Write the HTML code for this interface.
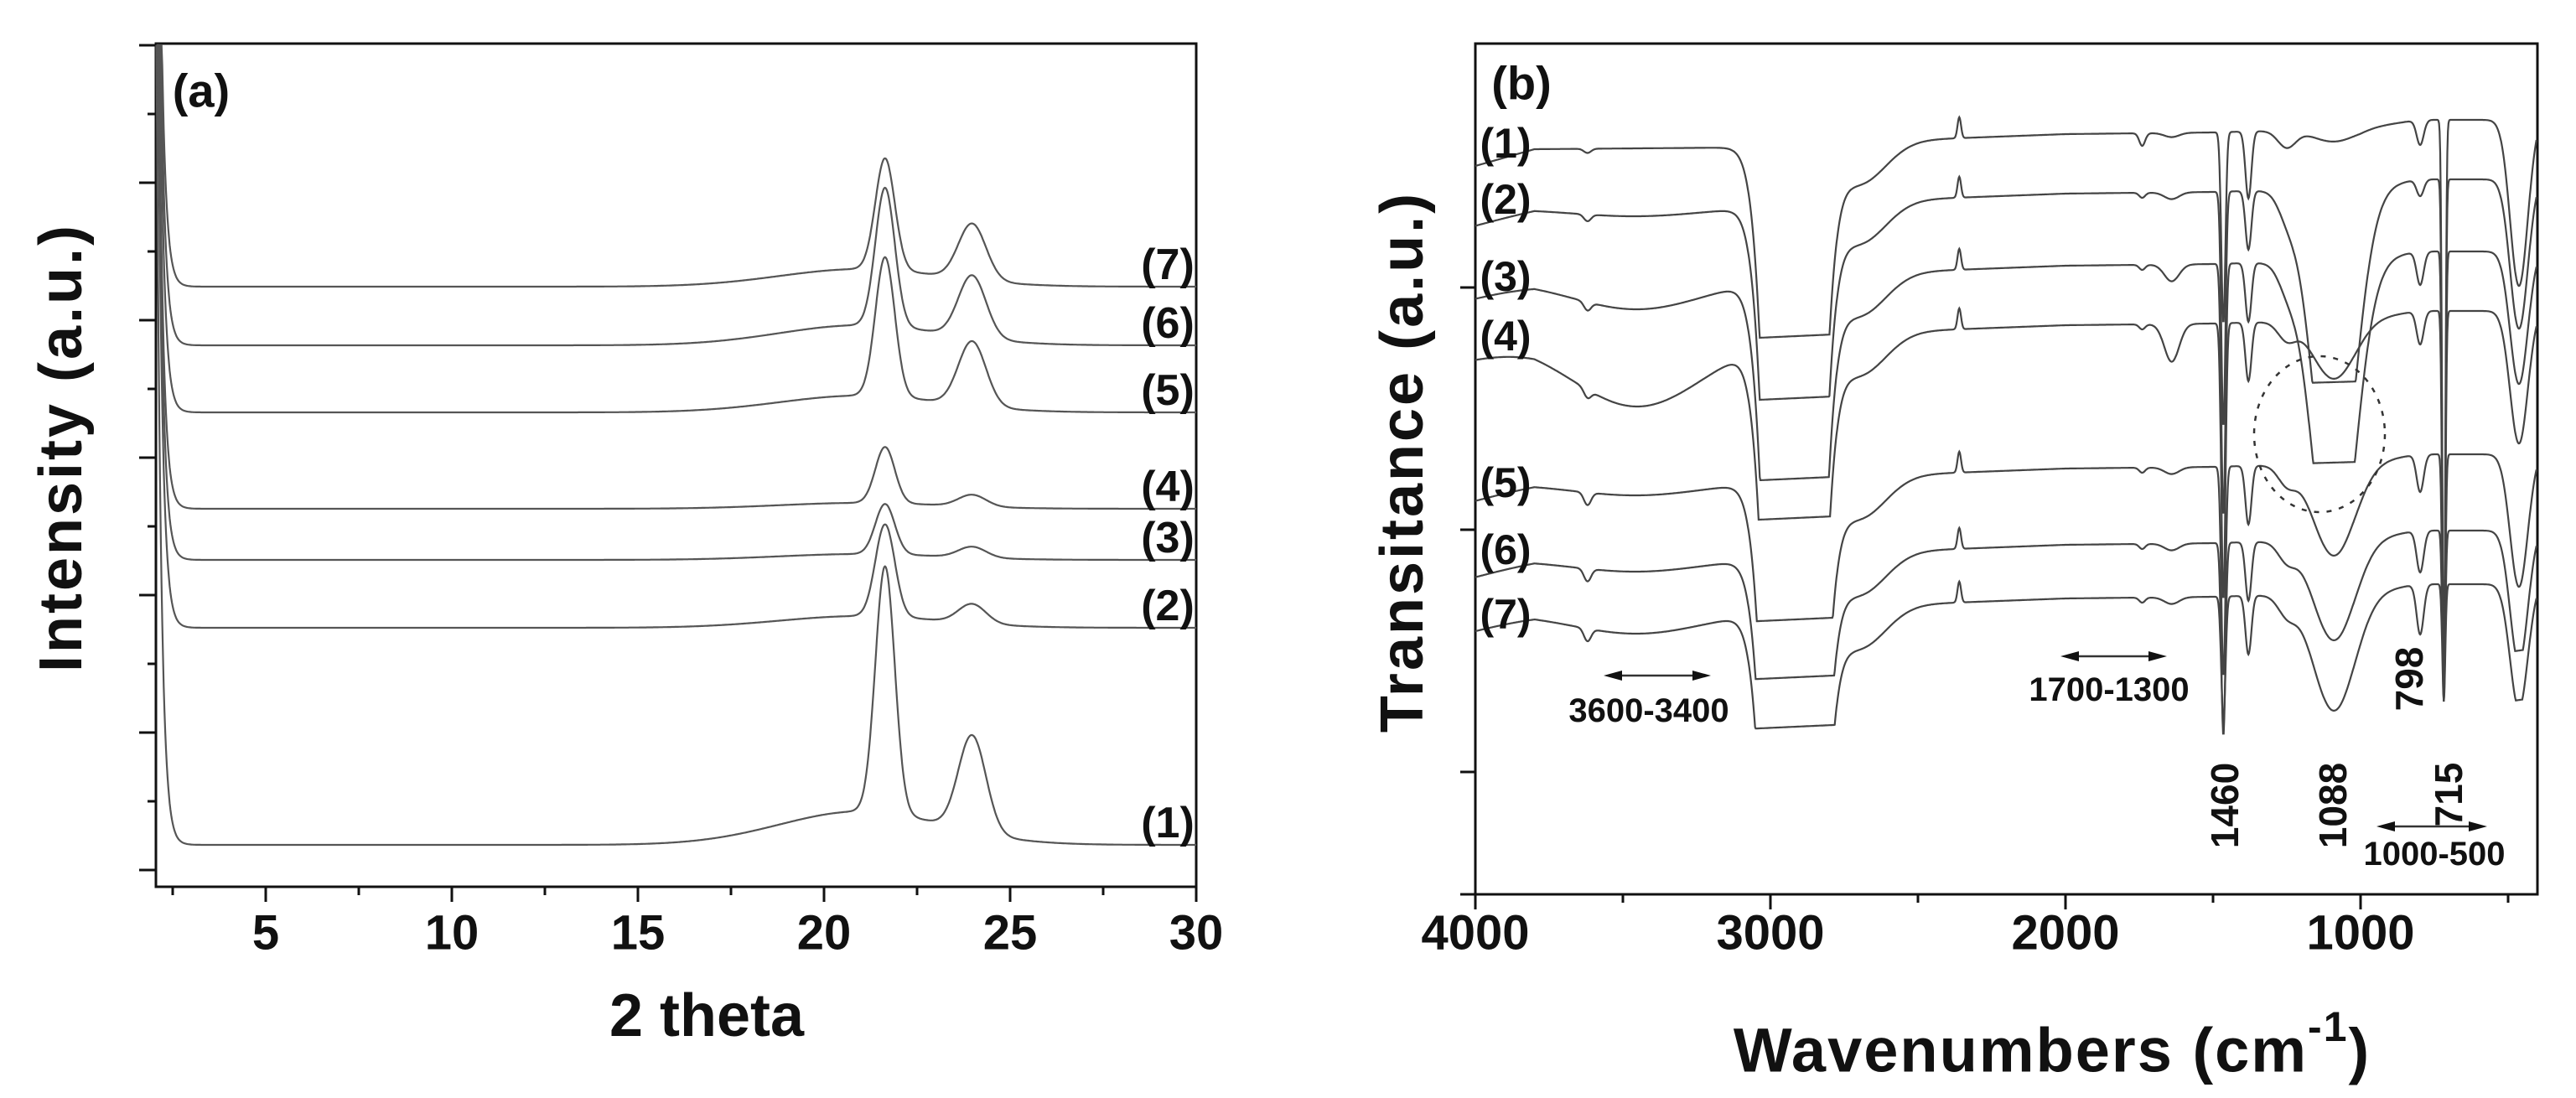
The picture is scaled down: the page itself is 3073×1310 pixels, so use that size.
<!DOCTYPE html>
<html><head><meta charset="utf-8"><style>
html,body{margin:0;padding:0;background:#fff;}
svg{display:block;font-family:"Liberation Sans",sans-serif;}
</style></head><body>
<svg id="fig" width="3073" height="1310" viewBox="0 0 3073 1310" xmlns="http://www.w3.org/2000/svg">
<rect x="0" y="0" width="3073" height="1310" fill="#fff"/>
<g id="pa"></g>
<g id="pb"></g>
</svg>
<script>
// ---------- Panel (a) data ----------
const xrdLabels = ["(1)","(2)","(3)","(4)","(5)","(6)","(7)"];
const xrdBaseline = [1008, 749, 668, 607, 492, 412, 342];      // pixel-scale baseline offset (a.u.)
const xrdPeak216 = [294, 110, 60, 67, 166, 165, 133];
const xrdPeak240 = [115, 23, 13, 14, 77, 74, 67];
const xrdHump = [40, 14, 7, 7, 20, 24, 21];
const xrdXTicks = [5, 10, 15, 20, 25, 30];
// ---------- Panel (b) data ----------
const irLabels = ["(1)","(2)","(3)","(4)","(5)","(6)","(7)"];
const irBaseline = [198, 269, 355, 426, 597, 688, 752];
const irSat = [228, 231, 241, 217, 167, 145, 140];
const irBgW = [4000, 3800, 3100, 2600, 2000, 1500, 1000, 800, 500, 400];
const irBgV = [0, -20, -22, -30, -38, -40, -45, -55, -55, -60];
const irBandCenters = [3620, 3450, 2920, 2700, 2360, 1740, 1640, 1380, 1250, 1090, 798, 463];
const irBandSigma =   [12,   220,  60,   90,   6,    10,   25,   10,   30,   70,   12,  30];
const irDepth1 = [5, 0, 1500, 50, -25, 15, 5, 80, 20, 15, 30, 200];
const irDepth2 = [8, 10, 1500, 50, -25, 6, 8, 70, 20, 400, 20, 180];
const irDepth3 = [10, 35, 1500, 50, -25, 6, 20, 70, 20, 400, 40, 160];
const irDepth4 = [10, 80, 1500, 50, -25, 6, 45, 70, 20, 70, 40, 160];
const irDepth5 = [15, 15, 1500, 50, -25, 6, 8, 70, 20, 110, 45, 160];
const irDepth6 = [15, 15, 1500, 50, -25, 6, 8, 70, 20, 120, 50, 160];
const irDepth7 = [15, 25, 1500, 50, -25, 6, 8, 70, 20, 140, 60, 150];
const irDepth1460 = [228, 280, 300, 330, 250, 230, 150];
const irDepth720 = [694, 623, 537, 466, 295, 204, 140];
const irXTicks = [4000, 3000, 2000, 1000];

const NS="http://www.w3.org/2000/svg";
function mk(tag, attrs, parent){const e=document.createElementNS(NS,tag);for(const k in attrs)e.setAttribute(k,attrs[k]);parent.appendChild(e);return e;}
function txt(parent,x,y,s,size,extra){const t=mk('text',Object.assign({x:x,y:y,'font-size':size,'font-weight':'bold','text-anchor':'middle','dominant-baseline':'central',fill:'#111'},extra||{}),parent);t.textContent=s;return t;}

// ===== Panel A =====
const pa=document.getElementById('pa');
const A={l:186,r:1427,t:52,b:1058};
const ax=x=>317+(x-5)*44.4;
const ay=v=>v; // values are in pixel-scale a.u.
(function(){
 const fr=mk('rect',{x:A.l,y:A.t,width:A.r-A.l,height:A.b-A.t,fill:'none',stroke:'#111','stroke-width':3},pa);
 
 for(let i=0;i<xrdXTicks.length;i++){const X=ax(xrdXTicks[i]);
  const tk=mk('line',{x1:X,x2:X,y1:A.b,y2:A.b+18,stroke:'#111','stroke-width':3},pa);
  
  const tl=txt(pa,X,1113,String(xrdXTicks[i]),58);
  
  const mx=ax(xrdXTicks[i]-2.5);
  const mt=mk('line',{x1:mx,x2:mx,y1:A.b,y2:A.b+10,stroke:'#111','stroke-width':3},pa);
  
 }
 for(let y=1038;y>A.t;y-=164){
  const tk=mk('line',{x1:A.l-20,x2:A.l,y1:y,y2:y,stroke:'#111','stroke-width':3},pa);
  
  if(y-82>A.t){const m=mk('line',{x1:A.l-10,x2:A.l,y1:y-82,y2:y-82,stroke:'#111','stroke-width':3},pa);
  }
 }
 for(let i=0;i<xrdBaseline.length;i++){
  let d='';
  for(let x=2.06;x<=30;x+=0.02){
   let v=xrdBaseline[i]
    -1000*Math.exp(-(x-2.06)/0.12)
    -xrdHump[i]*Math.exp(-Math.pow((x-21)/2.2,2)/2)
    -xrdPeak216[i]*Math.exp(-Math.pow((x-21.64)/0.26,2)/2)
    -xrdPeak240[i]*Math.exp(-Math.pow((x-23.98)/0.37,2)/2);
   v=Math.max(v,A.t+2);
   d+=(d?'L':'M')+ax(x).toFixed(1)+','+ay(v).toFixed(1);
  }
  const p=mk('path',{d:d,fill:'none',stroke:'#555','stroke-width':2.2},pa);
  
  const l=txt(pa,1393,xrdBaseline[i]-26,xrdLabels[i],52);
  
 }
 const pl=txt(pa,240,108,'(a)',56);
 const xt=txt(pa,843,1212,'2 theta',72);
 const yt=txt(pa,0,0,'Intensity (a.u.)',72,{transform:'translate(73,534) rotate(-90)','letter-spacing':'3'});
 
})();

// ===== Panel B =====
const pb=document.getElementById('pb');
const B={l:1760,r:3027,t:52,b:1067};
const bx=w=>1760+(4000-w)*0.352;
function bg(w){for(let k=0;k<irBgW.length-1;k++){if(w<=irBgW[k]&&w>=irBgW[k+1]){const f=(irBgW[k]-w)/(irBgW[k]-irBgW[k+1]);return irBgV[k]+f*(irBgV[k+1]-irBgV[k]);}}return irBgV[irBgV.length-1];}
const irDepths=[irDepth1,irDepth2,irDepth3,irDepth4,irDepth5,irDepth6,irDepth7];
(function(){
 const fr=mk('rect',{x:B.l,y:B.t,width:B.r-B.l,height:B.b-B.t,fill:'none',stroke:'#111','stroke-width':3},pb);
 
 for(let i=0;i<irXTicks.length;i++){const X=bx(irXTicks[i]);
  const tk=mk('line',{x1:X,x2:X,y1:B.b,y2:B.b+18,stroke:'#111','stroke-width':3},pb);
  
  const tl=txt(pb,X,1113,String(irXTicks[i]),58);
  
  const mx=bx(irXTicks[i]-500);
  const mt=mk('line',{x1:mx,x2:mx,y1:B.b,y2:B.b+10,stroke:'#111','stroke-width':3},pb);
  
 }
 [343,632,921,1067].forEach(y=>{const tk=mk('line',{x1:B.l-18,x2:B.l,y1:y,y2:y,stroke:'#111','stroke-width':3},pb);
  });
 for(let i=0;i<irBaseline.length;i++){
  let d='';const dep=irDepths[i];
  for(let w=4000;w>=403;w-=2){
   let off=0;
   for(let k=0;k<irBandCenters.length;k++){off+=dep[k]*Math.exp(-Math.pow((w-irBandCenters[k])/irBandSigma[k],2)/2);}
   off=Math.min(off,irSat[i]);
   off+=irDepth1460[i]*Math.exp(-Math.pow((w-1465)/7,2)/2);
   off+=irDepth720[i]*Math.exp(-Math.pow((w-718)/5,2)/2);
   let y=irBaseline[i]+bg(w)+off;
   y=Math.min(Math.max(y,B.t+4),B.b-2);
   d+=(d?'L':'M')+bx(w).toFixed(1)+','+y.toFixed(1);
  }
  const p=mk('path',{d:d,fill:'none',stroke:'#444','stroke-width':2.2},pb);
  
 }
 const labY=[171,238,330,401,576,656,733];
 for(let i=0;i<irLabels.length;i++){const l=txt(pb,1796,labY[i],irLabels[i],50);
  }
 const pl=txt(pb,1815,99,'(b)',56);
 const c=mk('ellipse',{cx:2767,cy:518,rx:78,ry:93,fill:'none',stroke:'#333','stroke-width':2.5,'stroke-dasharray':'6 9'},pb);
 
 function arrow(x1,x2,y,name){
  const g=mk('g',{},pb);
  mk('line',{x1:x1+14,x2:x2-14,y1:y,y2:y,stroke:'#333','stroke-width':2.5},g);
  mk('polygon',{points:`${x1},${y} ${x1+22},${y-6} ${x1+22},${y+6}`,fill:'#111'},g);
  mk('polygon',{points:`${x2},${y} ${x2-22},${y-6} ${x2-22},${y+6}`,fill:'#111'},g);
 }
 arrow(1913,2041,806,'range-arrow-3600-3400');
 arrow(2458,2585,783,'range-arrow-1700-1300');
 arrow(2835,2967,986,'range-arrow-1000-500');
 let t;
 t=txt(pb,1967,848,'3600-3400',40);
 t=txt(pb,2516,823,'1700-1300',40);
 t=txt(pb,2904,1019,'1000-500',40);
 t=txt(pb,0,0,'1460',46,{transform:'translate(2654,961) rotate(-90)'});
 t=txt(pb,0,0,'1088',46,{transform:'translate(2783,961) rotate(-90)'});
 t=txt(pb,0,0,'798',46,{transform:'translate(2874,810) rotate(-90)'});
 t=txt(pb,0,0,'715',46,{transform:'translate(2921,948) rotate(-90)'});
 const xt=mk('text',{x:2448,y:1253,'font-size':74,'font-weight':'bold','text-anchor':'middle','dominant-baseline':'central',fill:'#111','letter-spacing':'2'},pb);
 xt.innerHTML='Wavenumbers (cm<tspan dy="-28" font-size="50">-1</tspan><tspan dy="28">)</tspan>';
 
 const yt=txt(pb,0,0,'Transitance (a.u.)',72,{transform:'translate(1673,551) rotate(-90)','letter-spacing':'3'});
 
})();
</script>
</body></html>
